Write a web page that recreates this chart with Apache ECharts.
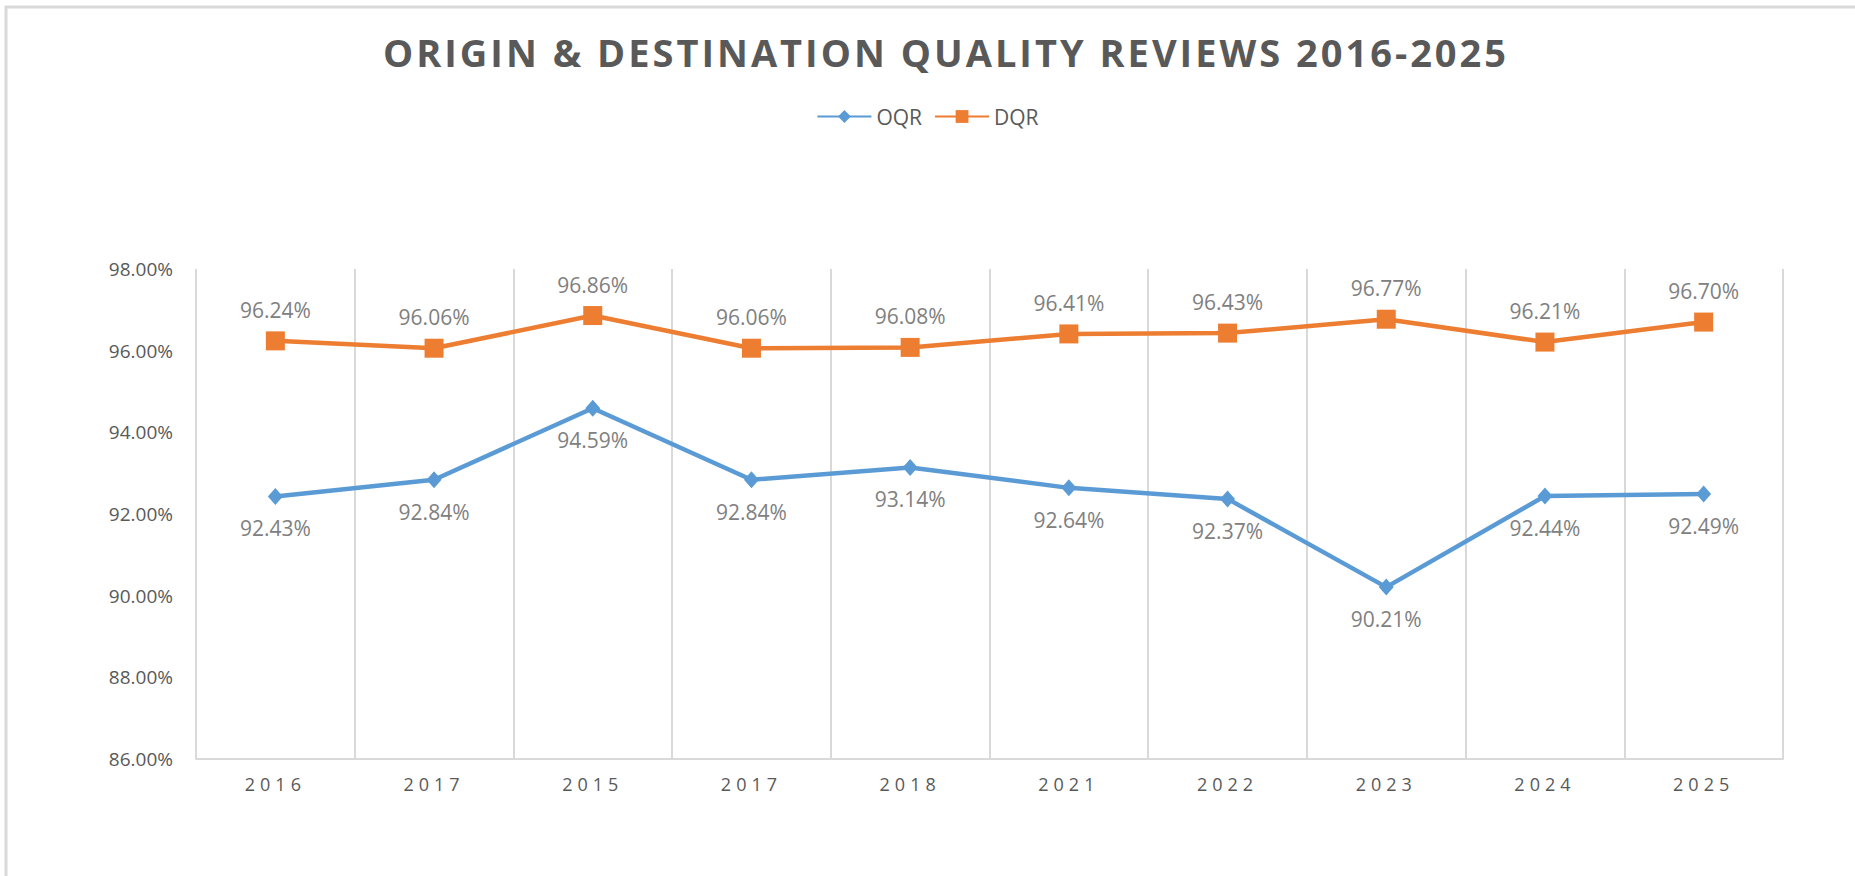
<!DOCTYPE html>
<html>
<head>
<meta charset="utf-8">
<script src="https://cdn.jsdelivr.net/npm/echarts@6/dist/echarts.min.js"></script>
<style>
html,body{margin:0;padding:0;background:#fff;}
#chart{width:1855px;height:876px;}
#chart text[style*="38px"]{letter-spacing:3px;}
#chart text[style*="18px"]{letter-spacing:5px;}
</style>
</head>
<body>
<div id="chart"></div>
<script>
const categories = ['2016','2017','2015','2017','2018','2021','2022','2023','2024','2025'];
const oqr = [92.43, 92.84, 94.59, 92.84, 93.14, 92.64, 92.37, 90.21, 92.44, 92.49];
const dqr = [96.24, 96.06, 96.86, 96.06, 96.08, 96.41, 96.43, 96.77, 96.21, 96.70];
const yMin = 86, yMax = 98, yStep = 2;

const chart = echarts.init(document.getElementById('chart'), null, {renderer:'svg'});
const labelFont = {color:'#808080', fontSize:21, fontFamily:'Open Sans'};
chart.setOption({
  animation:false,
  backgroundColor:'#fff',
  graphic:[{type:'rect', shape:{x:6, y:7, width:2000, height:1000}, style:{fill:'none', stroke:'#d9d9d9', lineWidth:3}, silent:true}],
  title:{
    text:'ORIGIN & DESTINATION QUALITY REVIEWS 2016-2025',
    left:941, top:28, textAlign:'center',
    textStyle:{color:'#595959', fontSize:38, fontWeight:'bold', fontFamily:'Open Sans'}
  },
  legend:{
    top:101, left:'center',
    itemWidth:54, itemHeight:16, itemGap:12,
    textStyle:{color:'#595959', fontSize:21, fontFamily:'Open Sans'},
    data:['OQR','DQR']
  },
  grid:{left:196, right:72, top:269, bottom:117, containLabel:false},
  xAxis:{
    type:'category', data:categories, boundaryGap:true,
    axisLine:{show:true, lineStyle:{color:'#d9d9d9', width:2}},
    axisTick:{show:false},
    splitLine:{show:true, lineStyle:{color:'#d9d9d9', width:2}},
    axisLabel:{color:'#595959', fontSize:18, fontFamily:'Open Sans', margin:16}
  },
  yAxis:{
    type:'value', min:yMin, max:yMax, interval:yStep,
    axisLine:{show:false}, axisTick:{show:false}, splitLine:{show:false},
    axisLabel:{color:'#595959', fontSize:19, fontFamily:'Open Sans', margin:23,
      formatter:v=>v.toFixed(2)+'%'}
  },
  series:[
    {name:'OQR', type:'line', data:oqr, symbol:'diamond', symbolSize:[15,17],
     lineStyle:{color:'#5b9bd5', width:4.5}, itemStyle:{color:'#5b9bd5'},
     label:{show:true, position:'bottom', distance:13, formatter:p=>p.value.toFixed(2)+'%', ...labelFont}},
    {name:'DQR', type:'line', data:dqr, symbol:'rect', symbolSize:19,
     lineStyle:{color:'#ed7d31', width:4.5}, itemStyle:{color:'#ed7d31'},
     label:{show:true, position:'top', distance:11, formatter:p=>p.value.toFixed(2)+'%', ...labelFont}}
  ]
});
</script>
</body>
</html>
